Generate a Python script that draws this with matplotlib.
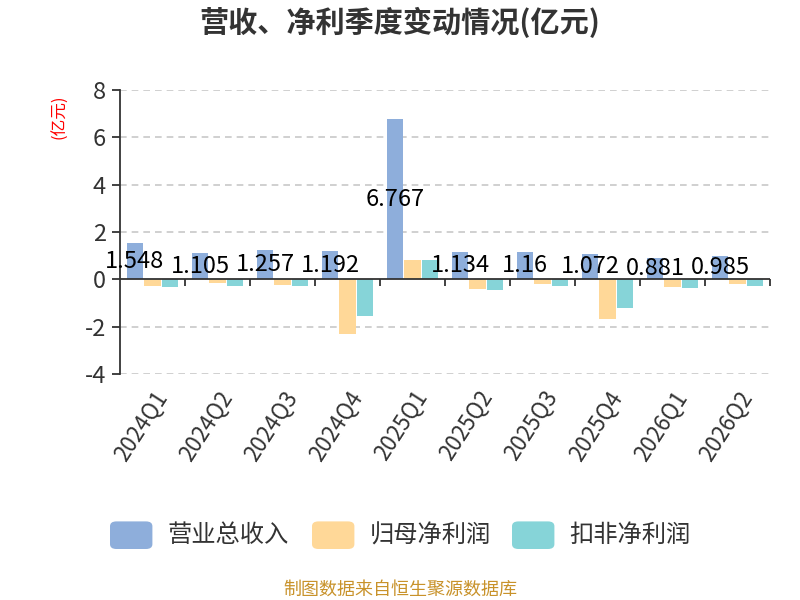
import numpy as np
import matplotlib.pyplot as plt
from matplotlib.patches import FancyBboxPatch

plt.rcParams['font.family'] = ['Noto Sans CJK SC', 'DejaVu Sans']
plt.rcParams['axes.unicode_minus'] = False

quarters = ['2024Q1', '2024Q2', '2024Q3', '2024Q4', '2025Q1',
            '2025Q2', '2025Q3', '2025Q4', '2026Q1', '2026Q2']
revenue = [1.548, 1.105, 1.257, 1.192, 6.767, 1.134, 1.16, 1.072, 0.881, 0.985]
net_profit = [-0.27, -0.16, -0.24, -2.31, 0.83, -0.43, -0.20, -1.68, -0.32, -0.20]
net_profit_kf = [-0.31, -0.28, -0.28, -1.55, 0.82, -0.45, -0.28, -1.20, -0.38, -0.28]
series_names = ['营业总收入', '归母净利润', '扣非净利润']
colors = ['#8eaedb', '#ffd898', '#86d4d8']

fig = plt.figure(figsize=(8, 6), dpi=100)
ax = fig.add_axes([0.15, 0.3767, 0.8125, 0.4733])

x = np.arange(len(quarters))
w = 0.255
ax.bar(x - 0.27, revenue, w, color=colors[0], zorder=3)
ax.bar(x, net_profit, w, color=colors[1], zorder=3)
ax.bar(x + 0.27, net_profit_kf, w, color=colors[2], zorder=3)

# value labels inside revenue bars
for xi, v in zip(x, revenue):
    ax.text(xi - 0.27, v / 2, f'{v:g}', ha='center', va='center',
            fontsize=17, color='black', zorder=5)

ax.set_xlim(-0.5, len(quarters) - 0.5)
ax.set_ylim(-4, 8)
ax.set_yticks(range(-4, 9, 2))
for yv in range(-4, 9, 2):
    if yv != 0:
        ax.axhline(yv, color='#c8c8c8', linestyle=(0, (4, 3)), linewidth=1.2, zorder=1)
ax.axhline(0, color='#333333', linewidth=1.3, zorder=4)

for s in ['top', 'right', 'bottom']:
    ax.spines[s].set_visible(False)
ax.spines['left'].set_color('#333333')
ax.spines['left'].set_linewidth(1.3)
ax.tick_params(axis='y', length=6, width=1.3, color='#333333',
               labelsize=17, labelcolor='#333333', pad=4)

ax.set_xticks(x)
ax.set_xticklabels(quarters, rotation=57, ha='right', rotation_mode='anchor',
                   fontsize=16, color='#333333')
ax.tick_params(axis='x', length=0, pad=9)

# boundary tick marks along the zero line
sec = ax.secondary_xaxis(1 / 3)
sec.set_xticks(np.arange(0.5, len(quarters), 1))
sec.set_xticklabels([])
sec.tick_params(axis='x', length=5, width=1.3, color='#333333', direction='out')
sec.spines['bottom'].set_visible(False)

fig.text(0.075, 0.805, '(亿元)', rotation=90, color='red', fontsize=12,
         ha='center', va='center')

fig.text(0.5, 0.962, '营收、净利季度变动情况(亿元)', ha='center', va='center',
         fontsize=21, fontweight='bold', color='#333333')

# legend
leg_x = [0.1375, 0.39, 0.64]
for lx, name, c in zip(leg_x, series_names, colors):
    fig.patches.append(FancyBboxPatch((lx, 0.085), 0.053, 0.046,
                                      boxstyle='round,pad=0,rounding_size=0.008',
                                      transform=fig.transFigure, facecolor=c,
                                      edgecolor='none'))
    fig.text(lx + 0.072, 0.108, name, ha='left', va='center',
             fontsize=17.5, color='#333333')

fig.text(0.5, 0.017, '制图数据来自恒生聚源数据库', ha='center', va='center',
         fontsize=13, color='#c8922a')

fig.savefig('out.png', dpi=100)
